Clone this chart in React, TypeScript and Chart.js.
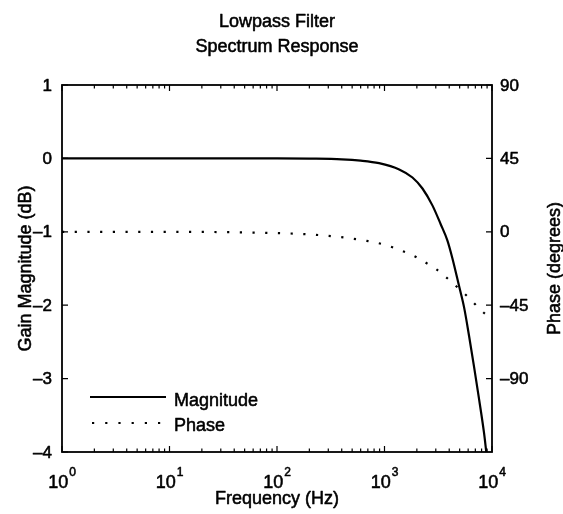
import React, { useEffect, useRef } from 'react';
import { Chart, registerables } from 'chart.js';

Chart.register(...registerables);

const titleLines = ['Lowpass Filter', 'Spectrum Response'];

const magFreq = [1, 10, 100, 200, 400, 600, 890, 1370, 1820, 2255, 2790, 3340, 3850, 4280, 4940, 5500, 6120, 6810, 7580, 8430, 8850];
const magDb = [0, 0, 0, -0.003, -0.012, -0.03, -0.065, -0.15, -0.26, -0.41, -0.64, -0.9, -1.12, -1.36, -1.74, -2.03, -2.42, -2.84, -3.28, -3.74, -4.0];

const phaseFreq = [1, 10, 100, 200, 470, 1000, 1260, 1580, 1990, 2460, 3040, 3660, 4410, 5310, 6310, 7590, 9070, 10000];
const phaseDeg = [0, 0, -0.8, -1.6, -3.9, -7.9, -10.1, -12.6, -15.7, -19.2, -23, -27.3, -32, -36.8, -41.4, -47, -51.5, -53.5];

const gainTicks = [1, 0, -1, -2, -3, -4];
const phaseTicks = [90, 45, 0, -45, -90];
const decadeExponents = [0, 1, 2, 3, 4];
const seriesNames = ['Magnitude', 'Phase'];
const xTitle = 'Frequency (Hz)';
const yTitle = 'Gain Magnitude (dB)';
const y1Title = 'Phase (degrees)';

const FONT = '"Liberation Sans", Arial, Helvetica, sans-serif';
const fmt = (v: number) => (v < 0 ? '\u2013' + Math.abs(v) : String(v));

function txt(ctx: CanvasRenderingContext2D, s: string, x: number, y: number) {
  ctx.fillText(s, x, y);
  ctx.strokeText(s, x, y);
}

const decorPlugin = {
  id: 'decor',
  afterDatasetsDraw(chart: any) {
    const { ctx, chartArea: a, scales } = chart;
    const x = scales.x;
    const y = scales.y;
    const y1 = scales.y1;
    ctx.save();
    ctx.strokeStyle = '#000';
    ctx.fillStyle = '#000';

    // frame
    ctx.lineWidth = 1.8;
    ctx.strokeRect(a.left, a.top, a.right - a.left, a.bottom - a.top);

    // ticks
    ctx.lineWidth = 1.2;
    ctx.beginPath();
    decadeExponents.forEach((e, i) => {
      const px = x.getPixelForValue(Math.pow(10, e));
      ctx.moveTo(px, a.bottom);
      ctx.lineTo(px, a.bottom - 6);
      ctx.moveTo(px, a.top);
      ctx.lineTo(px, a.top + 6);
      if (i < decadeExponents.length - 1) {
        for (let k = 2; k <= 9; k++) {
          const p = x.getPixelForValue(k * Math.pow(10, e));
          ctx.moveTo(p, a.bottom);
          ctx.lineTo(p, a.bottom - 3.5);
          ctx.moveTo(p, a.top);
          ctx.lineTo(p, a.top + 3.5);
        }
      }
    });
    gainTicks.forEach((v) => {
      const py = y.getPixelForValue(v);
      ctx.moveTo(a.left, py);
      ctx.lineTo(a.left + 6, py);
    });
    phaseTicks.forEach((v) => {
      const py = y1.getPixelForValue(v);
      ctx.moveTo(a.right, py);
      ctx.lineTo(a.right - 6, py);
    });
    ctx.stroke();

    ctx.lineWidth = 0.55;
    ctx.lineJoin = 'round';

    // title
    const cx = (a.left + a.right) / 2;
    ctx.font = `18px ${FONT}`;
    ctx.textAlign = 'center';
    ctx.textBaseline = 'alphabetic';
    txt(ctx, titleLines[0], cx, 27);
    txt(ctx, titleLines[1], cx, 52);

    // left tick labels
    ctx.font = `17px ${FONT}`;
    ctx.textAlign = 'right';
    ctx.textBaseline = 'middle';
    gainTicks.forEach((v) => {
      txt(ctx, fmt(v), a.left - 10, y.getPixelForValue(v) + 1);
    });
    // right tick labels
    ctx.textAlign = 'left';
    phaseTicks.forEach((v) => {
      txt(ctx, fmt(v), a.right + 8, y1.getPixelForValue(v) + 1);
    });

    // x tick labels 10^n
    ctx.textBaseline = 'alphabetic';
    decadeExponents.forEach((e) => {
      const px = x.getPixelForValue(Math.pow(10, e));
      ctx.font = `18px ${FONT}`;
      const wBase = ctx.measureText('10').width;
      ctx.font = `12px ${FONT}`;
      const wExp = ctx.measureText(String(e)).width;
      const start = px - (wBase + wExp + 1) / 2;
      ctx.textAlign = 'left';
      ctx.font = `18px ${FONT}`;
      txt(ctx, '10', start, a.bottom + 36);
      ctx.font = `12px ${FONT}`;
      txt(ctx, String(e), start + wBase + 1, a.bottom + 24);
    });

    // axis titles
    ctx.font = `18px ${FONT}`;
    ctx.textAlign = 'center';
    txt(ctx, xTitle, cx, a.bottom + 52);

    const cy = (a.top + a.bottom) / 2;
    ctx.save();
    ctx.translate(31, cy);
    ctx.rotate(-Math.PI / 2);
    txt(ctx, yTitle, 0, 0);
    ctx.restore();

    ctx.save();
    ctx.translate(560, cy);
    ctx.rotate(-Math.PI / 2);
    txt(ctx, y1Title, 0, 0);
    ctx.restore();

    // legend
    ctx.lineWidth = 2;
    ctx.beginPath();
    ctx.moveTo(90, 397);
    ctx.lineTo(166, 397);
    ctx.stroke();
    ctx.setLineDash([2.2, 11]);
    ctx.beginPath();
    ctx.moveTo(92, 423);
    ctx.lineTo(166, 423);
    ctx.stroke();
    ctx.setLineDash([]);
    ctx.lineWidth = 0.55;
    ctx.textAlign = 'left';
    ctx.font = `18px ${FONT}`;
    txt(ctx, seriesNames[0], 174, 406);
    txt(ctx, seriesNames[1], 174, 431);

    ctx.restore();
  },
};

export default function App() {
  const ref = useRef<HTMLCanvasElement | null>(null);
  useEffect(() => {
    if (!ref.current) return;
    const chart = new Chart(ref.current, {
      type: 'line',
      data: {
        datasets: [
          {
            label: seriesNames[0],
            data: magFreq.map((f, i) => ({ x: f, y: magDb[i] })),
            yAxisID: 'y',
            borderColor: '#000',
            borderWidth: 2.2,
            pointRadius: 0,
            cubicInterpolationMode: 'monotone',
            fill: false,
          },
          {
            label: seriesNames[1],
            data: phaseFreq.map((f, i) => ({ x: f, y: phaseDeg[i] })),
            yAxisID: 'y1',
            borderColor: '#000',
            borderWidth: 2.2,
            borderDash: [2.2, 10.5],
            pointRadius: 0,
            cubicInterpolationMode: 'monotone',
            fill: false,
          },
        ],
      },
      options: {
        animation: false,
        responsive: true,
        maintainAspectRatio: false,
        layout: { padding: { left: 62, top: 85, right: 71, bottom: 62 } },
        plugins: { legend: { display: false }, title: { display: false }, tooltip: { enabled: false } },
        scales: {
          x: { type: 'logarithmic', min: 1, max: 10000, display: false },
          y: { type: 'linear', min: -4, max: 1, display: false },
          y1: { type: 'linear', min: -135, max: 90, display: false, position: 'right' },
        },
      },
      plugins: [decorPlugin],
    });
    return () => chart.destroy();
  }, []);
  return (
    <div style={{ position: 'fixed', left: 0, top: 0, width: 563, height: 514, background: '#fff' }}>
      <canvas ref={ref} />
    </div>
  );
}
